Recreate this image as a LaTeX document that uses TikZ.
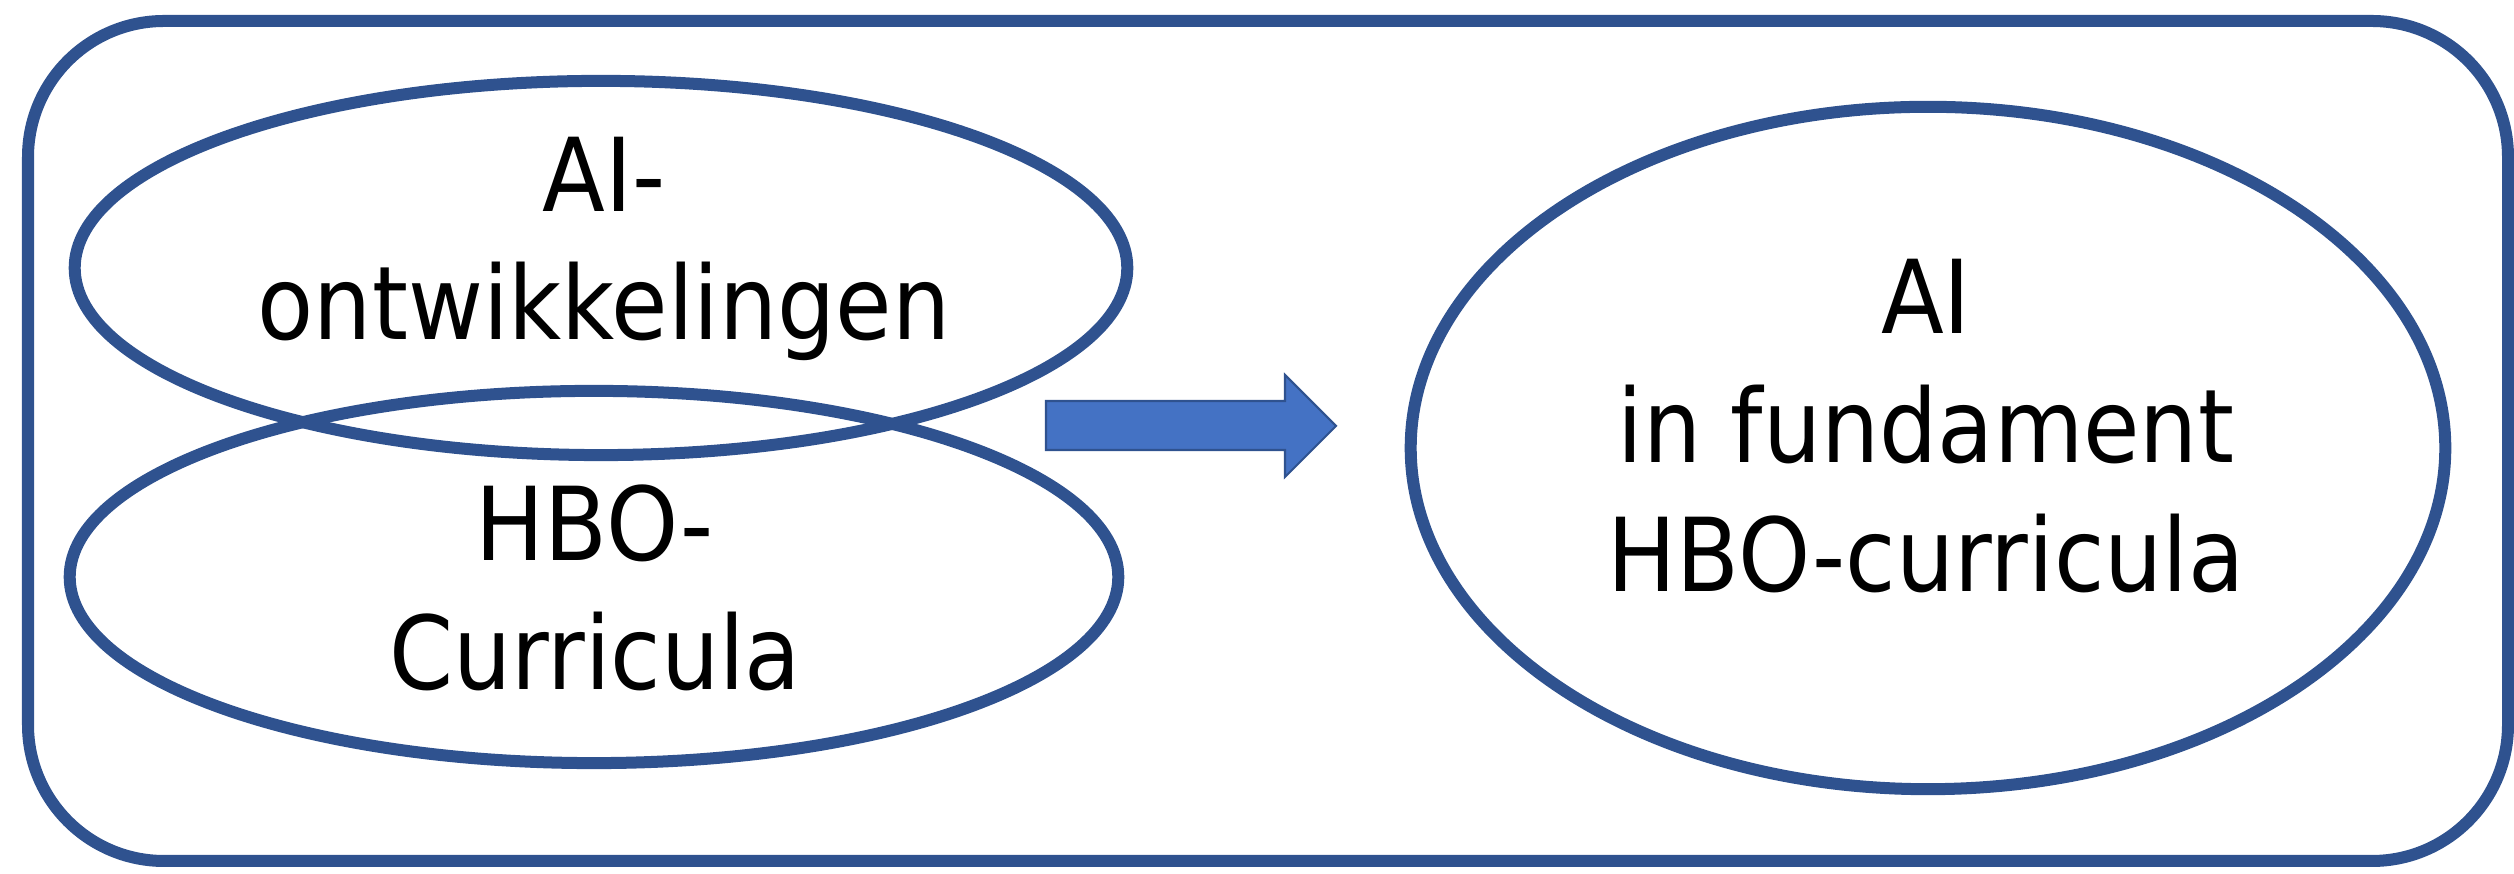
\documentclass[tikz,border=0pt]{standalone}
\usepackage{fontspec}
\setmainfont{DejaVu Sans}[FakeStretch=0.9]
\usepackage{xcolor}
\usetikzlibrary{shapes.geometric, positioning}
\definecolor{randblauw}{HTML}{2F528F}
\definecolor{pijlblauw}{HTML}{4472C4}

\begin{document}
\begin{tikzpicture}[x=0.01cm, y=-0.01cm,
    ovaal/.style={draw=randblauw, line width=0.12cm, ellipse, inner sep=0pt},
    tekst/.style={align=center, font=\fontsize{29pt}{36.6pt}\selectfont, inner sep=0pt}]
    \useasboundingbox (0,0) rectangle (2514,874);

    % Define the corners of the frame
    \coordinate (LB) at (28,21);
    \coordinate (RO) at (2508,861);
    \draw[randblauw, line width=0.12cm, rounded corners=1.36cm] (LB) rectangle (RO);

    % Draw the ellipses
    \node[ovaal, minimum width=10.52cm, minimum height=3.74cm] (ontw) at (601,268) {};
    \node[ovaal, minimum width=10.48cm, minimum height=3.72cm] (hbo) at (594,577) {};
    \node[ovaal, minimum width=10.34cm, minimum height=6.82cm] (fund) at (1928,448) {};

    % Label the ellipses
    \node[tekst] (tOntw) at (604,249) {AI-\\ontwikkelingen};
    \node[tekst] (tHbo) at (595,588) {HBO-\\Curricula};
    \node[tekst] (tFund) at (1926,426) {AI\\in fundament\\HBO-curricula};

    % Draw the arrow
    \coordinate (S1) at (1046,401);
    \coordinate (S2) at (1285,401);
    \coordinate (K1) at (1285,375);
    \coordinate (Tip) at (1336,426);
    \coordinate (K2) at (1285,477);
    \coordinate (S3) at (1285,450);
    \coordinate (S4) at (1046,450);
    \filldraw[fill=pijlblauw, draw=randblauw, line width=0.6pt]
        (S1) -- (S2) -- (K1) -- (Tip) -- (K2) -- (S3) -- (S4) -- cycle;
\end{tikzpicture}
\end{document}
